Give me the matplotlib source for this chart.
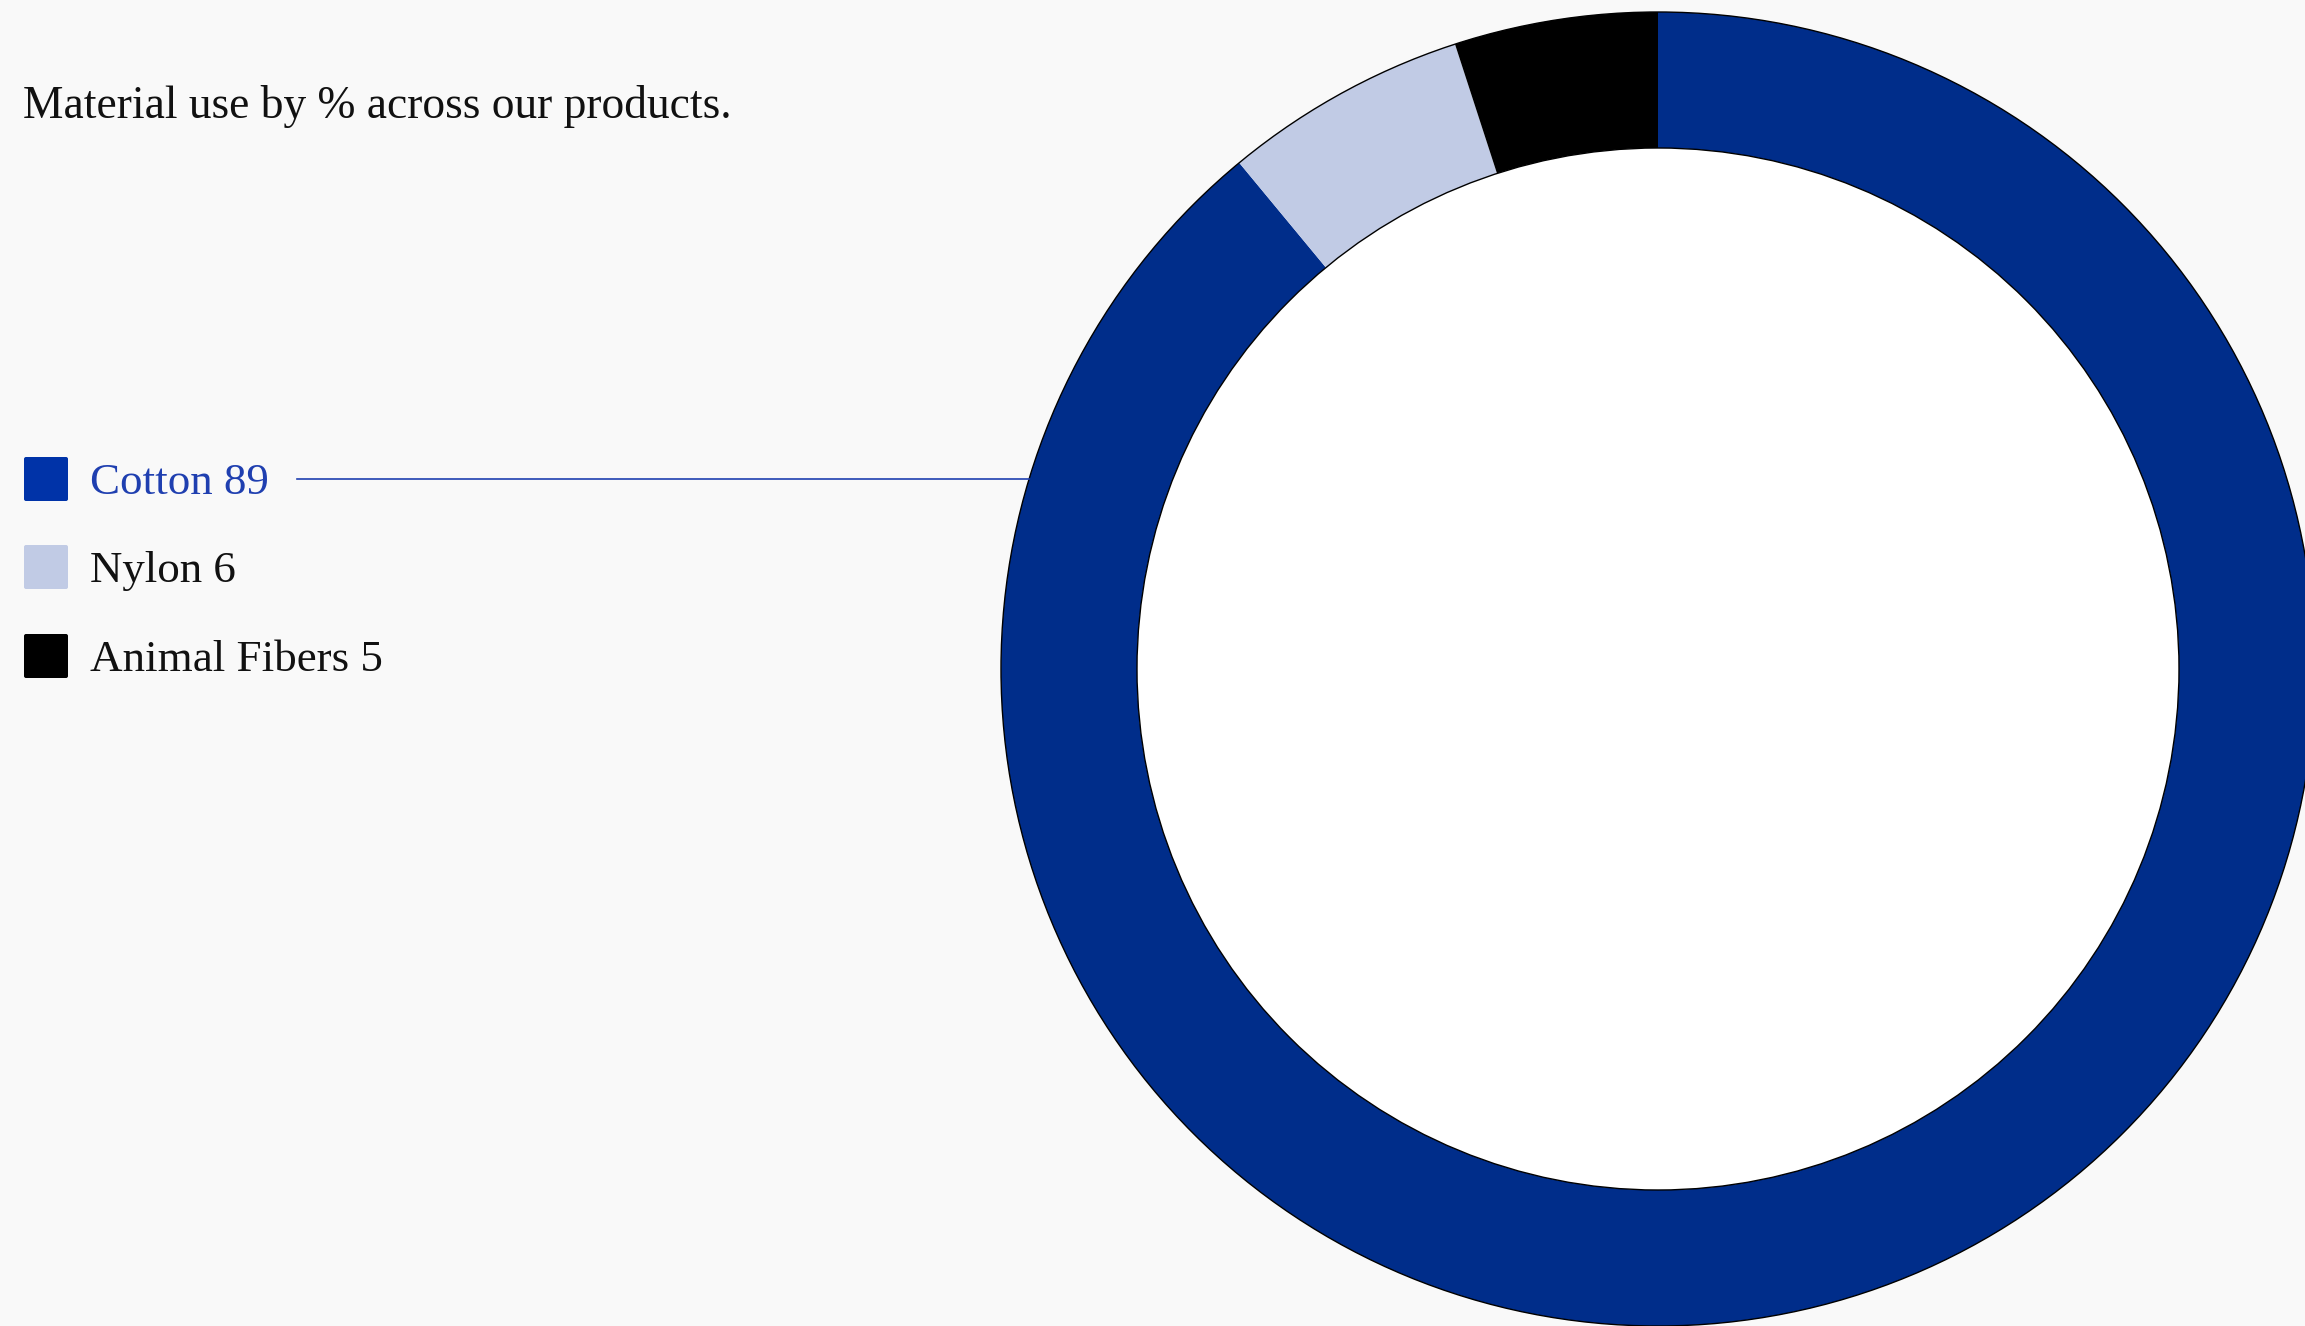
import matplotlib
matplotlib.use("Agg")
import matplotlib.pyplot as plt
from matplotlib.patches import Circle, FancyBboxPatch

# Material shares (% of products)
materials = ["Cotton", "Nylon", "Animal Fibers"]
shares = [89, 6, 5]
ring_colors = ["#002D8A", "#C1CBE5", "#000000"]
swatch_colors = ["#0033A8", "#C1CBE5", "#000000"]
label_colors = ["#1F3FB0", "#111111", "#111111"]

subtitle = "Material use by % across our products."

W, H = 2305, 1326
BG = "#F9F9F9"
SERIF = ["Liberation Serif", "DejaVu Serif"]

fig = plt.figure(figsize=(W / 100, H / 100), dpi=100, facecolor=BG)
ax = fig.add_axes([0, 0, 1, 1])
ax.set_facecolor(BG)

cx, cy = 1658, H - 669
r_out, ring_w = 657, 136

ax.pie(shares, colors=ring_colors, startangle=90, counterclock=False,
       radius=r_out, center=(cx, cy),
       wedgeprops=dict(width=ring_w, linewidth=0))
ax.add_patch(Circle((cx, cy), r_out - ring_w, facecolor="white",
                    edgecolor="black", linewidth=1.0, zorder=3))
ax.add_patch(Circle((cx, cy), r_out, fill=False,
                    edgecolor="black", linewidth=1.0, zorder=3))

ax.set_xlim(0, W)
ax.set_ylim(0, H)
ax.set_aspect("equal")
ax.axis("off")

# Subtitle
ax.text(23, H - 106, subtitle, fontsize=32.8, family=SERIF, color="#111111",
        va="center", ha="left")

# Legend
row_y = [479, 567, 656]
sq = 44
for name, val, sc, lc, y in zip(materials, shares, swatch_colors, label_colors, row_y):
    yy = H - y
    ax.add_patch(FancyBboxPatch((24 + 2, yy - sq / 2 + 2), sq - 4, sq - 4,
                                boxstyle="round,pad=2", facecolor=sc,
                                edgecolor="none"))
    ax.text(90, yy - 4, f"{name} {val}", fontsize=32.4, family=SERIF, color=lc,
            va="center", ha="left")

# Leader line from the highlighted legend entry to the ring
ly = H - row_y[0]
x_edge = cx - (r_out ** 2 - (cy - ly) ** 2) ** 0.5
ax.plot([297, x_edge], [ly, ly], color="#1F3FB0", linewidth=1.2, zorder=4)

fig.savefig("out.png", dpi=100, facecolor=BG)
